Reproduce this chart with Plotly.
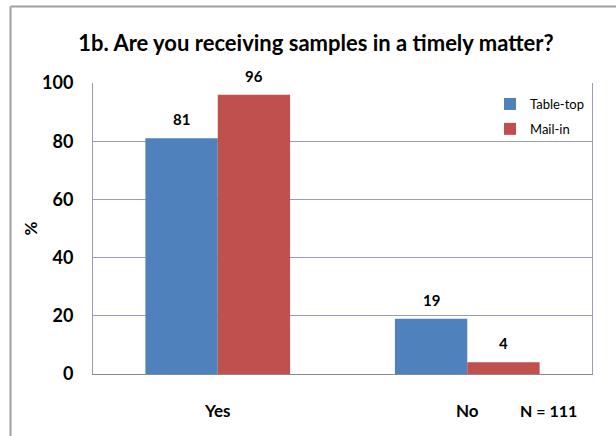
import plotly.graph_objects as go

categories = ["Yes", "No"]
table_top = [81, 19]
mail_in = [96, 4]
series_names = ["Table-top", "Mail-in"]
y_ticks = [0, 20, 40, 60, 80, 100]

W, H = 616, 436
L, R, T, B = 93, 24, 83, 62
pw, ph = W - L - R, H - T - B

def px(x):
    return (x - L) / pw

def py(y):
    return (H - B - y) / ph

FONT = "Lato"
grid = "#9a9ac0"

def bold(size):
    return dict(family=FONT, size=size, color="#000", weight="bold")

fig = go.Figure()
for i, (vals, color) in enumerate([(table_top, "#4f81bd"), (mail_in, "#c0504d")]):
    fig.add_trace(go.Bar(x=categories, y=vals, name=series_names[i],
                         legendgroup=series_names[i],
                         marker=dict(color=color, line=dict(width=0)),
                         offsetgroup=str(i)))

# value labels above bars
bar_half = 36
for i, vals in enumerate([table_top, mail_in]):
    for c, v in zip(categories, vals):
        fig.add_annotation(x=c, y=v, text=str(v), showarrow=False,
                           xshift=(-bar_half if i == 0 else bar_half),
                           yanchor="bottom", yshift=8, font=bold(15))

fig.update_layout(
    width=W, height=H,
    margin=dict(l=L, r=R, t=T, b=B, pad=0),
    paper_bgcolor="white", plot_bgcolor="white",
    barmode="group", bargap=0.42, bargroupgap=0,
    font=dict(family=FONT, color="#000"),
    title=dict(text="1b. Are you receiving samples in a timely matter?",
               x=316 / W, xanchor="center", xref="container",
               y=1 - 43 / H, yanchor="middle", yref="container",
               font=bold(22)),
    showlegend=True,
    legend=dict(x=px(490), y=py(89), xanchor="left", yanchor="top",
                bgcolor="rgba(0,0,0,0)", font=dict(family=FONT, size=13, color="#000"),
                itemwidth=30, tracegroupgap=5, traceorder="grouped"),
    xaxis=dict(showgrid=False, showline=True, linecolor="#8a8a8a", linewidth=1,
               ticks="", tickfont=bold(17), ticklabelstandoff=22),
    yaxis=dict(range=[0, 100], tickvals=y_ticks, showgrid=True, gridcolor=grid,
               gridwidth=1, zeroline=False, showline=True, linecolor=grid,
               mirror=True, ticks="", tickfont=bold(18), ticklabelstandoff=15,
               title=dict(text="%", font=bold(17), standoff=0)),
)

fig.add_annotation(text="N = 111", xref="paper", yref="paper",
                   x=px(548), y=py(410), xanchor="center", yanchor="middle",
                   showarrow=False, font=bold(16))

# outer chart border (left and top visible)
fig.add_shape(type="line", xref="paper", yref="paper",
              x0=px(10.5), x1=px(10.5), y0=py(6.5), y1=py(440),
              line=dict(color="#a0a0a0", width=2))
fig.add_shape(type="line", xref="paper", yref="paper",
              x0=px(10.5), x1=px(620), y0=py(6.5), y1=py(6.5),
              line=dict(color="#a0a0a0", width=2))

fig.write_html("out.html")
